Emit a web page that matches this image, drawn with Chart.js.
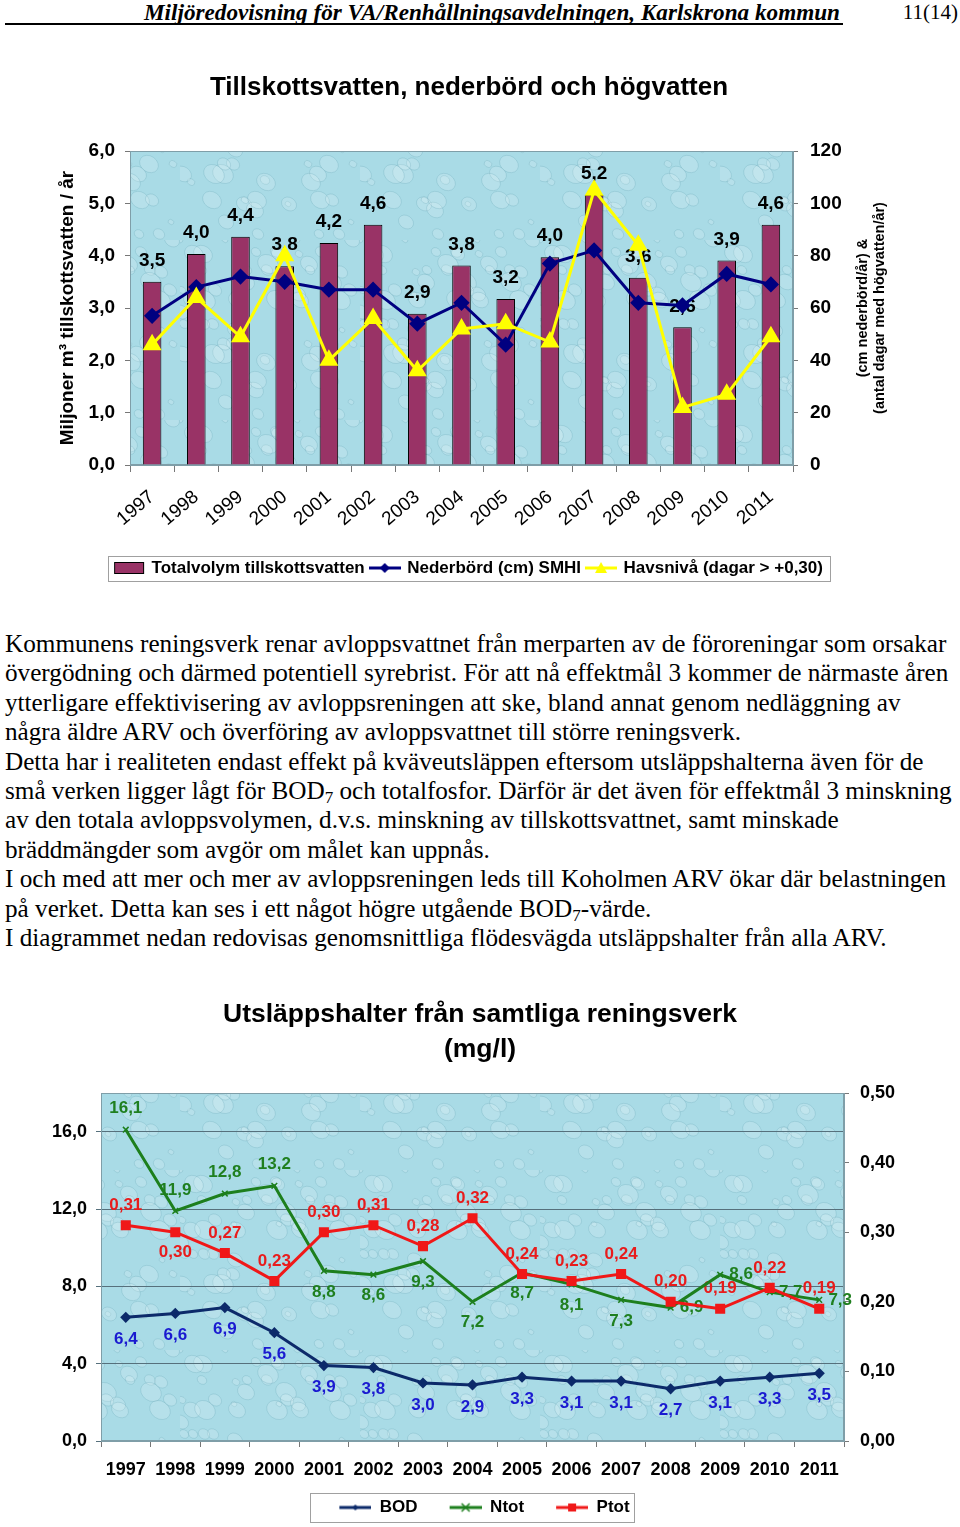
<!DOCTYPE html>
<html>
<head>
<meta charset="utf-8">
<script src="https://cdn.jsdelivr.net/npm/chart.js@4/dist/chart.umd.min.js"></script>
<style>
  body { margin: 0; background: #fff; width: 960px; height: 1527px; position: relative; overflow: hidden; }
  #hdr { position: absolute; right: 120px; top: 0; font: italic bold 23.2px "Liberation Serif", "Times New Roman", serif; line-height: 24px; white-space: nowrap; }
  #page { position: absolute; right: 2px; top: 0; font: 21px "Liberation Serif", "Times New Roman", serif; line-height: 24px; }
  #rule { position: absolute; left: 5px; top: 23px; width: 838px; height: 2px; background: #000; }
  #txt { position: absolute; left: 5px; top: 629px; font: 25.2px "Liberation Serif", "Times New Roman", serif; line-height: 29.4px; white-space: nowrap; color: #000; }
  #txt sub { font-size: 17px; vertical-align: -4px; line-height: 0; }
  #c1wrap { position: absolute; left: 0; top: 60px; width: 960px; height: 540px; }
  #c2wrap { position: absolute; left: 0; top: 990px; width: 960px; height: 537px; }
</style>
</head>
<body>
<div id="hdr">Miljöredovisning för VA/Renhållningsavdelningen, Karlskrona kommun</div>
<div id="rule"></div>
<div id="page">11(14)</div>

<div id="c1wrap"><canvas id="chart1"></canvas></div>

<div id="txt">
<div>Kommunens reningsverk renar avloppsvattnet från merparten av de föroreningar som orsakar</div>
<div>övergödning och därmed potentiell syrebrist. För att nå effektmål 3 kommer de närmaste åren</div>
<div>ytterligare effektivisering av avloppsreningen att ske, bland annat genom nedläggning av</div>
<div>några äldre ARV och överföring av avloppsvattnet till större reningsverk.</div>
<div>Detta har i realiteten endast effekt på kväveutsläppen eftersom utsläppshalterna även för de</div>
<div>små verken ligger lågt för BOD<sub>7</sub> och totalfosfor. Därför är det även för effektmål 3 minskning</div>
<div>av den totala avloppsvolymen, d.v.s. minskning av tillskottsvattnet, samt minskade</div>
<div>bräddmängder som avgör om målet kan uppnås.</div>
<div>I och med att mer och mer av avloppsreningen leds till Koholmen ARV ökar där belastningen</div>
<div>på verket. Detta kan ses i ett något högre utgående BOD<sub>7</sub>-värde.</div>
<div>I diagrammet nedan redovisas genomsnittliga flödesvägda utsläppshalter från alla ARV.</div>
</div>

<div id="c2wrap"><canvas id="chart2"></canvas></div>

<script>
// ---- data ----
const years = ['1997', '1998', '1999', '2000', '2001', '2002', '2003', '2004',
               '2005', '2006', '2007', '2008', '2009', '2010', '2011'];

// chart 1: miljoner m3 / år (left), cm resp. dagar (right)
const totalvolym = [3.5, 4.03, 4.36, 3.8, 4.24, 4.59, 2.89, 3.81, 3.17, 3.97, 5.16, 3.58, 2.63, 3.91, 4.59];
const nederbord  = [57, 68, 72, 70, 67, 67, 54, 62, 46, 77, 82, 62, 61, 73, 69];
const havsniva   = [46, 64, 49, 80, 40, 56, 36, 52, 54, 47, 105, 84, 22, 27, 49];

// chart 2: mg/l
const bod  = [6.4, 6.6, 6.9, 5.6, 3.9, 3.8, 3.0, 2.9, 3.3, 3.1, 3.1, 2.7, 3.1, 3.3, 3.5];
const ntot = [16.1, 11.9, 12.8, 13.2, 8.8, 8.6, 9.3, 7.2, 8.7, 8.1, 7.3, 6.9, 8.6, 7.7, 7.3];
const ptot = [0.31, 0.30, 0.27, 0.23, 0.30, 0.31, 0.28, 0.32, 0.24, 0.23, 0.24, 0.20, 0.19, 0.22, 0.19];

// where each value label sits relative to its point
const ntotLabelPos = ['above', 'above', 'above', 'above', 'below', 'below', 'below', 'below',
                      'below', 'below', 'below', 'right', 'right', 'right', 'right'];
const ptotLabelPos = ['above', 'below', 'above', 'above', 'above', 'above', 'above', 'above',
                      'above', 'above', 'above', 'above', 'above', 'above', 'above'];

const SANS = "'Liberation Sans', Arial, sans-serif";
Chart.defaults.font.family = SANS;
Chart.defaults.color = '#000';

const comma = (v, d) => Number(v).toFixed(d).replace('.', ',');

// water-drop look for the plot area
function dropPattern() {
  const c = document.createElement('canvas');
  c.width = 180; c.height = 180;
  const g = c.getContext('2d');
  g.fillStyle = '#a9dbe6';
  g.fillRect(0, 0, 180, 180);
  for (let i = 0; i < 70; i++) {
    const x = (i * 53) % 180, y = (i * 97 + i * i * 7) % 180;
    const r = 3 + (i * 13) % 9;
    g.beginPath();
    g.ellipse(x, y, r, r * 0.8, 0.6, 0, Math.PI * 2);
    g.fillStyle = 'rgba(255,255,255,0.16)';
    g.fill();
    g.strokeStyle = 'rgba(80,150,170,0.22)';
    g.lineWidth = 1;
    g.stroke();
  }
  return c;
}

function legendIcon(kind, color, w) {
  const c = document.createElement('canvas');
  c.width = w; c.height = 14;
  const g = c.getContext('2d');
  const x0 = w - 32, cy = 7;
  if (kind === 'bar') {
    g.fillStyle = color; g.fillRect(x0 + 1, 1, 30, 12);
    g.strokeStyle = '#000'; g.lineWidth = 1; g.strokeRect(x0 + 1.5, 1.5, 29, 11);
    return c;
  }
  g.strokeStyle = color; g.lineWidth = 3;
  g.beginPath(); g.moveTo(x0, cy); g.lineTo(x0 + 32, cy); g.stroke();
  const mx = x0 + 16;
  g.fillStyle = color;
  g.beginPath();
  if (kind === 'diamond') { g.moveTo(mx, cy - 5); g.lineTo(mx + 5, cy); g.lineTo(mx, cy + 5); g.lineTo(mx - 5, cy); g.fill(); }
  else if (kind === 'triangle') { g.moveTo(mx, cy - 6); g.lineTo(mx + 6, cy + 5); g.lineTo(mx - 6, cy + 5); g.fill(); }
  else if (kind === 'square') { g.fillRect(mx - 4, cy - 4, 8, 8); }
  else if (kind === 'cross') { g.lineWidth = 1.5; g.moveTo(mx - 4, cy - 4); g.lineTo(mx + 4, cy + 4); g.moveTo(mx + 4, cy - 4); g.lineTo(mx - 4, cy + 4); g.stroke(); }
  else if (kind === 'smalldiamond') { g.moveTo(mx, cy - 3); g.lineTo(mx + 3, cy); g.lineTo(mx, cy + 3); g.lineTo(mx - 3, cy); g.fill(); }
  return c;
}

const plotFrame = {
  id: 'plotFrame',
  beforeDraw(chart) {
    const a = chart.chartArea, ctx = chart.ctx;
    ctx.save();
    ctx.fillStyle = ctx.createPattern(dropPattern(), 'repeat');
    ctx.fillRect(a.left, a.top, a.width, a.height);
    ctx.restore();
  },
  beforeDatasetsDraw(chart) {
    const a = chart.chartArea, ctx = chart.ctx;
    ctx.save();
    ctx.strokeStyle = '#7f9ea8';
    ctx.lineWidth = 1;
    ctx.strokeRect(a.left + 0.5, a.top + 0.5, a.width - 1, a.height - 1);
    ctx.restore();
  }
};

function drawLabels(chart, i) {
  const ds = chart.data.datasets[i];
  const lab = ds.valueLabels;
  if (!lab) return;
  const meta = chart.getDatasetMeta(i);
  const ctx = chart.ctx;
  ctx.save();
  ctx.font = lab.font;
  ctx.fillStyle = lab.color;
  ctx.textBaseline = 'middle';
  ctx.textAlign = 'center';
  meta.data.forEach((el, j) => {
    const p = Array.isArray(lab.pos) ? lab.pos[j] : lab.pos;
    let x = el.x, y = el.y;
    if (p === 'above') y -= lab.gap;
    else if (p === 'below') y += lab.gap;
    else if (p === 'right') x += lab.gap;
    ctx.fillText(comma(ds.data[j], lab.decimals), x, y);
  });
  ctx.restore();
}

const valueLabels = {
  id: 'valueLabels',
  beforeDatasetsDraw(chart, args, opts) {
    if (!opts.under) return;
    chart.data.datasets.forEach((d, i) => drawLabels(chart, i));
  },
  afterDatasetDraw(chart, args, opts) {
    if (opts.under) return;
    drawLabels(chart, args.index);
  }
};

const legendFrame = {
  id: 'legendFrame',
  afterDraw(chart, args, opts) {
    const boxes = chart.legend && chart.legend.legendHitBoxes;
    if (!boxes || !boxes.length) return;
    let l = Infinity, r = -Infinity, t = Infinity, b = -Infinity;
    boxes.forEach(h => {
      l = Math.min(l, h.left); r = Math.max(r, h.left + h.width);
      t = Math.min(t, h.top); b = Math.max(b, h.top + h.height);
    });
    const ctx = chart.ctx;
    ctx.save();
    ctx.strokeStyle = '#a0a0a0';
    ctx.lineWidth = 1;
    ctx.strokeRect(Math.round(l - opts.padX) + 0.5, Math.round(t - opts.padY) + 0.5,
                   Math.round(r - l + opts.padX * 2), Math.round(b - t + opts.padY * 2));
    ctx.restore();
  }
};

// rotated axis titles reading bottom-to-top, on both sides
const sideTitle = {
  id: 'sideTitle',
  afterDraw(chart, args, opts) {
    if (!opts.items) return;
    const a = chart.chartArea, ctx = chart.ctx;
    opts.items.forEach(it => {
      ctx.save();
      ctx.font = it.font;
      ctx.fillStyle = '#000';
      ctx.textAlign = 'center';
      ctx.textBaseline = 'middle';
      ctx.translate(it.x, (a.top + a.bottom) / 2);
      ctx.rotate(-Math.PI / 2);
      it.lines.forEach((t, k) => ctx.fillText(t, 0, k * (it.lineGap || 0)));
      ctx.restore();
    });
  }
};

// ---------- chart 1 ----------
new Chart(document.getElementById('chart1'), {
  type: 'bar',
  data: {
    labels: years,
    datasets: [
      {
        type: 'bar',
        label: 'Totalvolym tillskottsvatten',
        data: totalvolym,
        yAxisID: 'y',
        backgroundColor: '#993366',
        borderColor: '#000',
        borderWidth: 1,
        categoryPercentage: 1,
        barPercentage: 0.42,
        order: 3,
        valueLabels: { font: 'bold 19px ' + SANS, color: '#000', pos: 'above', gap: 21, decimals: 1 }
      },
      {
        type: 'line',
        label: 'Nederbörd (cm) SMHI',
        data: nederbord,
        yAxisID: 'y2',
        borderColor: '#000080',
        backgroundColor: '#000080',
        borderWidth: 3,
        pointStyle: 'rectRot',
        pointRadius: 6,
        tension: 0,
        order: 2
      },
      {
        type: 'line',
        label: 'Havsnivå (dagar > +0,30)',
        data: havsniva,
        yAxisID: 'y2',
        borderColor: '#ffff00',
        backgroundColor: '#ffff00',
        borderWidth: 3,
        pointStyle: 'triangle',
        pointRadius: 8,
        tension: 0,
        order: 1
      }
    ]
  },
  options: {
    responsive: true,
    maintainAspectRatio: false,
    animation: false,
    layout: { padding: { left: 0, right: 22, top: 0, bottom: 13.5 } },
    scales: {
      x: {
        offset: true,
        grid: { offset: true, drawOnChartArea: false, tickLength: 7, color: '#777' },
        border: { color: '#7f9ea8' },
        ticks: { font: { size: 19 }, minRotation: 40, maxRotation: 40, padding: 14, autoSkip: false },
        afterFit: s => { s.height = 88.5; }
      },
      y: {
        position: 'left',
        min: 0, max: 6,
        ticks: { stepSize: 1, font: { size: 19, weight: 'bold' }, padding: 10, callback: v => comma(v, 1) },
        grid: { drawOnChartArea: false, tickLength: 5, color: '#777' },
        border: { color: '#7f9ea8' },
        afterFit: s => { s.width = 130; }
      },
      y2: {
        position: 'right',
        min: 0, max: 120,
        ticks: { stepSize: 20, font: { size: 19, weight: 'bold' }, padding: 12 },
        grid: { drawOnChartArea: false, tickLength: 5, color: '#777' },
        border: { color: '#7f9ea8' },
        afterFit: s => { s.width = 145; }
      }
    },
    plugins: {
      title: {
        display: true,
        text: 'Tillskottsvatten, nederbörd och högvatten',
        font: { size: 26, weight: 'bold' },
        color: '#000',
        padding: { top: 12.4, bottom: 47.4 }
      },
      legend: {
        position: 'bottom',
        labels: {
          usePointStyle: true,
          pointStyleWidth: 28,
          font: { size: 17, weight: 'bold' },
          padding: 6,
          color: '#000',
          sort: (a, b) => a.datasetIndex - b.datasetIndex,
          generateLabels: chart => chart.data.datasets.map((d, i) => ({
            text: d.label,
            datasetIndex: i,
            pointStyle: [legendIcon('bar', '#993366', 32), legendIcon('diamond', '#000080', 32), legendIcon('triangle', '#ffff00', 32)][i],
            fillStyle: 'transparent', strokeStyle: 'transparent', lineWidth: 0,
            fontColor: '#000', hidden: false
          }))
        }
      },
      tooltip: { enabled: false },
      valueLabels: { under: false },
      legendFrame: { padX: 7, padY: 4 },
      sideTitle: {
        items: [
          { lines: ['Miljoner m³ tillskottsvatten / år'], font: 'bold 19px ' + SANS, x: 68 },
          { lines: ['(cm nederbörd/år) &', '(antal dagar med högvatten/år)'], font: 'bold 14.5px ' + SANS, x: 863, lineGap: 17 }
        ]
      }
    }
  },
  plugins: [plotFrame, valueLabels, legendFrame, sideTitle]
});

// ---------- chart 2 ----------
new Chart(document.getElementById('chart2'), {
  type: 'line',
  data: {
    labels: years,
    datasets: [
      {
        label: 'BOD',
        data: bod,
        yAxisID: 'y',
        borderColor: '#0c2a6a',
        backgroundColor: '#0c2a6a',
        borderWidth: 3,
        pointStyle: 'rectRot',
        pointRadius: 3.5,
        tension: 0,
        order: 3,
        valueLabels: { font: 'bold 17px ' + SANS, color: '#1a1ad0', pos: 'below', gap: 22, decimals: 1 }
      },
      {
        label: 'Ntot',
        data: ntot,
        yAxisID: 'y',
        borderColor: '#1d7f1d',
        backgroundColor: '#1d7f1d',
        borderWidth: 3,
        pointStyle: 'crossRot',
        pointRadius: 4,
        pointBorderWidth: 1.5,
        tension: 0,
        order: 2,
        valueLabels: { font: 'bold 17px ' + SANS, color: '#1f7f1f', pos: ntotLabelPos, gap: 21, decimals: 1 }
      },
      {
        label: 'Ptot',
        data: ptot,
        yAxisID: 'y2',
        borderColor: '#f01818',
        backgroundColor: '#f01818',
        borderWidth: 3,
        pointStyle: 'rect',
        pointRadius: 5,
        tension: 0,
        order: 1,
        valueLabels: { font: 'bold 17px ' + SANS, color: '#e81c1c', pos: ptotLabelPos, gap: 20, decimals: 2 }
      }
    ]
  },
  options: {
    responsive: true,
    maintainAspectRatio: false,
    animation: false,
    layout: { padding: { left: 0, right: 0, top: 0, bottom: 1 } },
    scales: {
      x: {
        offset: true,
        grid: { offset: true, drawOnChartArea: false, tickLength: 6, color: '#777' },
        border: { color: '#7f9ea8' },
        ticks: { font: { size: 18, weight: 'bold' }, maxRotation: 0, padding: 12, autoSkip: false },
        afterFit: s => { s.height = 50; }
      },
      y: {
        position: 'left',
        min: 0, max: 18,
        ticks: { stepSize: 4, includeBounds: false, font: { size: 18, weight: 'bold' }, padding: 9, callback: v => comma(v, 1) },
        grid: { tickLength: 5, color: '#56707c' },
        border: { color: '#7f9ea8' },
        afterFit: s => { s.width = 101; }
      },
      y2: {
        position: 'right',
        min: 0, max: 0.5,
        ticks: { stepSize: 0.1, font: { size: 18, weight: 'bold' }, padding: 11, callback: v => comma(v, 2) },
        grid: { drawOnChartArea: false, tickLength: 5, color: '#777' },
        border: { color: '#7f9ea8' },
        afterFit: s => { s.width = 116; }
      }
    },
    plugins: {
      title: {
        display: true,
        text: ['Utsläppshalter från samtliga reningsverk', '(mg/l)'],
        font: { size: 26.5, weight: 'bold', lineHeight: 1.3 },
        color: '#000',
        padding: { top: 7.8, bottom: 26.3 }
      },
      legend: {
        position: 'bottom',
        fullSize: false,
        labels: {
          usePointStyle: true,
          pointStyleWidth: 56,
          font: { size: 17, weight: 'bold' },
          padding: 8,
          color: '#000',
          sort: (a, b) => a.datasetIndex - b.datasetIndex,
          generateLabels: chart => chart.data.datasets.map((d, i) => ({
            text: d.label,
            datasetIndex: i,
            pointStyle: [legendIcon('smalldiamond', '#0c2a6a', 56), legendIcon('cross', '#1d7f1d', 56), legendIcon('square', '#f01818', 56)][i],
            fillStyle: 'transparent', strokeStyle: 'transparent', lineWidth: 0,
            fontColor: '#000', hidden: false
          }))
        }
      },
      tooltip: { enabled: false },
      valueLabels: { under: true },
      legendFrame: { padX: 5, padY: 6 }
    }
  },
  plugins: [plotFrame, valueLabels, legendFrame]
});
</script>
</body>
</html>
